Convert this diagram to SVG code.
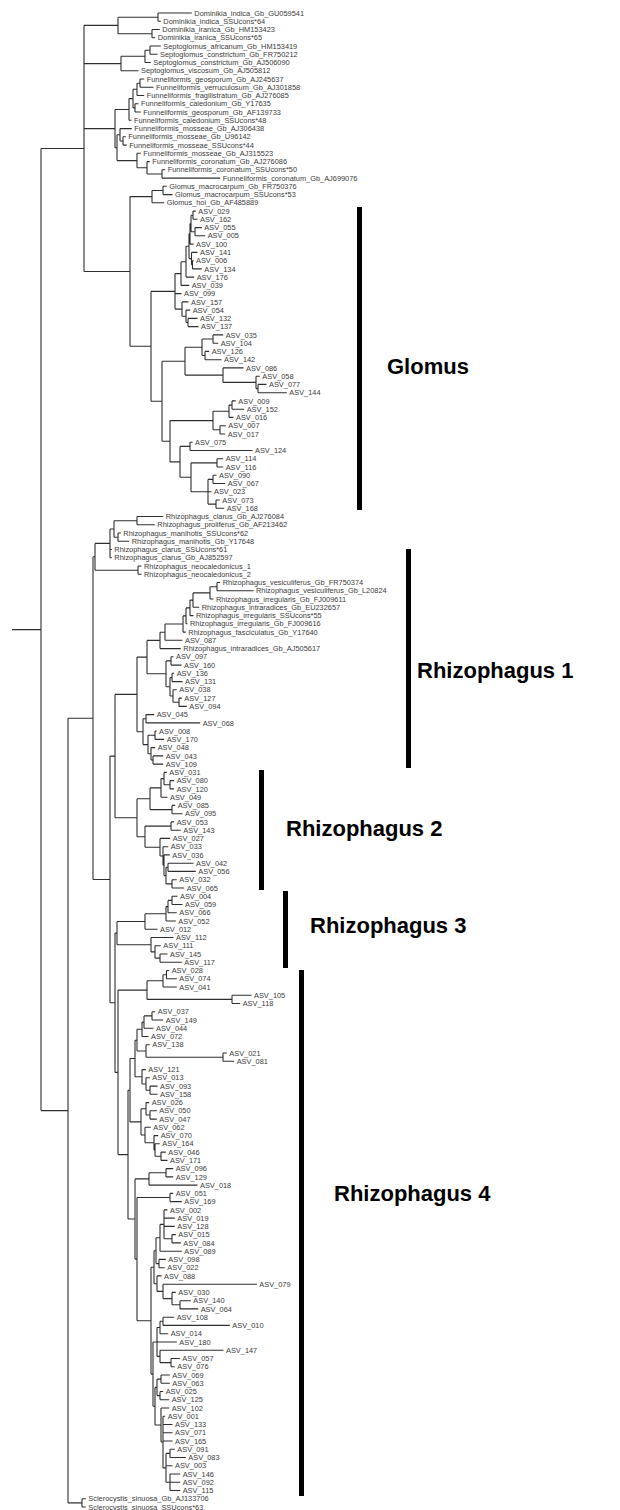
<svg xmlns="http://www.w3.org/2000/svg" width="620" height="1510" viewBox="0 0 620 1510">
<style>
.t{font-family:"Liberation Sans",Arial,sans-serif;font-size:7.4px;fill:#3a3a3a}
.lab{font-family:"Liberation Sans",Arial,sans-serif;font-size:22px;font-weight:bold;fill:#000}
.e{fill:none;stroke:#2e2e2e;stroke-width:1.1}
.bar{fill:#000}
</style>
<rect width="620" height="1510" fill="#fff"/>
<g id="connectors">
<path class="e" d="M12 629.6H41 M41 148.5V1110.6 M41 148.5H84 M41 1110.6H68
M84 25.4V271.5 M84 25.4H118 M84 63.6H121 M84 128.6H115 M84 271.5H130
M118 17.2V33.7 M118 17.2H158 M118 33.7H152
M158 13V21.3 M158 13H191.8 M158 21.3H160.8
M152 29.5V37.8 M152 29.5H159.8 M152 37.8H155.2
M121 56.3V70.8 M121 56.3H145 M121 70.8H138.5
M145 50.2V62.5 M145 50.2H150 M145 62.5H150.8
M150 46V54.3 M150 46H160.8 M150 54.3H157.5
M115 109.5V147.7 M115 109.5H129 M115 147.7H117
M129 98.6V120.3 M129 98.6H133 M129 120.3H131.5
M133 89.3V107.9 M133 89.3H137 M133 107.9H135
M137 83.2V95.5 M137 83.2H140 M137 95.5H144.2
M140 79V87.3 M140 79H144.2 M140 87.3H153.5
M135 103.8V112 M135 103.8H138.5 M135 112H140.8
M117 134.8V160.6 M117 134.8H120 M117 160.6H137
M120 128.6V141 M120 128.6H131.8 M120 141H123
M123 136.8V145.1 M123 136.8H125.8 M123 145.1H126.8
M137 153.3V167.8 M137 153.3H140.8 M137 167.8H147
M147 161.6V174 M147 161.6H149.8 M147 174H162
M162 169.8V178.1 M162 169.8H165.2 M162 178.1H220.2
M130 196.6V346.3 M130 196.6H152 M130 346.3H151
M152 190.5V202.8 M152 190.5H163 M152 202.8H164.2
M163 186.3V194.6 M163 186.3H166.8 M163 194.6H172.5
M151 291.4V401.2 M151 291.4H175 M151 401.2H162
M175 273.6V309.1 M175 273.6H181 M175 293.6H181.5 M175 309.1H182
M181 261.7V285.4 M181 261.7H186 M181 285.4H189.2
M186 246.2V277.1 M186 246.2H189 M186 277.1H194.2
M189 233.8V258.6 M189 233.8H190 M189 258.6H191.5
M190 223.5V244.1 M190 223.5H191 M190 244.1H193.5
M191 215.2V231.7 M191 215.2H193 M191 231.7H195
M193 211.1V219.3 M193 211.1H195.8 M193 219.3H197.5
M195 227.6V235.8 M195 227.6H201.8 M195 235.8H205.2
M191.5 252.4V264.8 M191.5 252.4H197.5 M191.5 264.8H192.5
M192.5 260.6V268.9 M192.5 260.6H193.5 M192.5 268.9H201.8
M182 301.9V316.3 M182 301.9H188.5 M182 316.3H186
M186 310.1V322.5 M186 310.1H190.2 M186 322.5H188
M188 318.4V326.6 M188 318.4H197.5 M188 326.6H198.5
M162 361.2V441.2 M162 361.2H185 M162 441.2H170
M185 347.3V375.1 M185 347.3H202 M185 375.1H223
M202 339V355.5 M202 339H213 M202 355.5H205
M213 334.9V343.2 M213 334.9H223.2 M213 343.2H218.2
M205 351.4V359.7 M205 351.4H209.2 M205 359.7H221.5
M223 367.9V382.4 M223 367.9H243.5 M223 382.4H256
M256 376.2V388.6 M256 376.2H259.8 M256 388.6H258
M258 384.4V392.7 M258 384.4H266.5 M258 392.7H286.8
M170 420.6V461.9 M170 420.6H213 M170 461.9H180
M213 411.3V429.8 M213 411.3H229 M213 429.8H220
M229 405.1V417.4 M229 405.1H232 M229 417.4H233.5
M232 400.9V409.2 M232 400.9H235.8 M232 409.2H244.2
M220 425.7V434 M220 425.7H225.8 M220 434H225.2
M180 446.4V477.3 M180 446.4H190 M180 477.3H191
M190 442.2V450.5 M190 442.2H192.5 M190 450.5H252.5
M191 462.9V491.8 M191 462.9H217 M191 491.8H208
M217 458.7V467 M217 458.7H223.2 M217 467H223.2
M208 479.4V504.1 M208 479.4H213 M208 491.7H211.5 M208 504.1H216
M213 475.2V483.5 M213 475.2H216.5 M213 483.5H225.2
M216 500V508.2 M216 500H219.8 M216 508.2H224.2
M68 718.2V1502.9 M68 718.2H93 M68 1502.9H82
M82 1498.8V1507 M82 1498.8H85.8 M82 1507H85.8
M93 556.8V879.5 M93 556.8H95 M93 879.5H110
M95 543.4V570.2 M95 543.4H110 M95 570.2H138
M110 529V557.8 M110 529H114 M110 549.5H111.8 M110 557.8H111.8
M114 520.7V537.2 M114 520.7H137 M114 537.2H118
M137 516.5V524.8 M137 516.5H163.2 M137 524.8H154.8
M118 533V541.3 M118 533H120.8 M118 541.3H129.2
M138 566V574.3 M138 566H141.5 M138 574.3H141.5
M110 756.1V1002.8 M110 756.1H115 M110 1002.8H115
M115 694.4V817.8 M115 694.4H137 M115 817.8H137
M137 657.1V731.7 M137 657.1H147 M137 731.7H143
M147 640.4V673.8 M147 640.4H160 M147 673.8H166
M217 582.5V590.8 M217 582.5H220.2 M217 590.8H253.5
M210 586.7V599 M210 586.7H217 M210 599H213.5
M193 592.9V607.3 M193 592.9H210 M193 607.3H199.2
M190 600.1V615.6 M190 600.1H193 M190 615.6H193.5
M186 607.9V623.8 M186 607.9H190 M186 623.8H187.5
M183 615.9V632.1 M183 615.9H186 M183 632.1H185.8
M165 624V640.3 M165 624H183 M165 640.3H182.5
M160 632.2V648.6 M160 632.2H165 M160 648.6H180.8
M166 660.9V686.7 M166 660.9H171 M166 686.7H170
M171 656.8V665.1 M171 656.8H173.5 M171 665.1H181.5
M170 677.5V696 M170 677.5H172 M170 696H173
M172 673.3V681.6 M172 673.3H174.2 M172 681.6H182.5
M173 689.8V702.2 M173 689.8H176.8 M173 702.2H179
M179 698.1V706.4 M179 698.1H181.8 M179 706.4H186.8
M143 718.8V744.6 M143 718.8H146 M143 744.6H148
M146 714.6V722.9 M146 714.6H154.2 M146 722.9H200.2
M148 735.3V753.8 M148 735.3H155 M148 753.8H151
M155 731.1V739.4 M155 731.1H156.5 M155 739.4H164.2
M151 747.6V760 M151 747.6H155.2 M151 760H153
M153 755.9V764.1 M153 755.9H163.2 M153 764.1H163.2
M137 798.8V836.7 M137 798.8H150 M137 836.7H145
M150 787.9V809.6 M150 787.9H161 M150 809.6H172
M161 778.6V797.2 M161 778.6H164 M161 797.2H167.5
M164 772.4V784.8 M164 772.4H166.8 M164 784.8H170
M170 780.6V788.9 M170 780.6H174.2 M170 788.9H174.2
M172 805.4V813.7 M172 805.4H175.2 M172 813.7H182.5
M145 826.1V847.2 M145 826.1H171 M145 847.2H160
M171 821.9V830.2 M171 821.9H174.2 M171 830.2H180.8
M160 838.4V856 M160 838.4H170.2 M160 856H163
M163 846.7V865.3 M163 846.7H168.2 M163 865.3H164
M164 854.9V875.6 M164 854.9H169.8 M164 875.6H166
M166 867.3V883.9 M166 867.3H168 M166 883.9H172
M168 863.2V871.4 M168 863.2H193.5 M168 871.4H195.8
M172 879.7V888 M172 879.7H176.8 M172 888H184.2
M115 933.1V1072.4 M115 933.1H117 M115 1072.4H118
M117 921.5V944.7 M117 921.5H145 M117 944.7H151
M145 913.8V929.2 M145 913.8H166 M145 929.2H157.5
M166 906.6V921 M166 906.6H168 M166 921H175.8
M168 900.4V912.7 M168 900.4H172 M168 912.7H176.8
M172 896.2V904.5 M172 896.2H177.5 M172 904.5H182.5
M151 937.5V951.9 M151 937.5H173.5 M151 951.9H155
M155 945.7V958.1 M155 945.7H160.8 M155 958.1H160
M160 954V962.2 M160 954H167.5 M160 962.2H181.8
M118 990.1V1154.6 M118 990.1H147 M118 1154.6H128
M147 980.8V999.4 M147 980.8H163 M147 999.4H232
M163 974.7V987 M163 974.7H166.5 M163 987H176.8
M166.5 970.5V978.8 M166.5 970.5H169.2 M166.5 978.8H176.8
M232 995.3V1003.5 M232 995.3H251.5 M232 1003.5H240.2
M128 1090.2V1219 M128 1090.2H130 M128 1219H135
M130 1058.5V1121.9 M130 1058.5H135 M130 1121.9H141
M135 1040.2V1076.8 M135 1040.2H137 M135 1076.8H142
M137 1029.3V1051 M137 1029.3H142 M137 1051H146
M142 1022.1V1036.5 M142 1022.1H144 M142 1036.5H148.5
M144 1015.9V1028.3 M144 1015.9H152 M144 1028.3H153.5
M152 1011.8V1020 M152 1011.8H155.2 M152 1020H163.2
M146 1044.8V1057.2 M146 1044.8H149.8 M146 1057.2H223
M223 1053V1061.3 M223 1053H226.8 M223 1061.3H234.2
M142 1069.6V1084 M142 1069.6H145.8 M142 1084H146
M146 1077.8V1090.2 M146 1077.8H149.8 M146 1090.2H150
M150 1086.1V1094.3 M150 1086.1H157.5 M150 1094.3H157.5
M141 1108.8V1135 M141 1108.8H146 M141 1135H145
M146 1102.6V1115 M146 1102.6H149.2 M146 1115H150
M150 1110.8V1119.1 M150 1110.8H156.8 M150 1119.1H156.8
M145 1127.3V1142.8 M145 1127.3H150.8 M145 1142.8H154
M154 1135.6V1150 M154 1135.6H158.2 M154 1150H155
M155 1143.8V1156.2 M155 1143.8H159.8 M155 1156.2H161
M161 1152.1V1160.4 M161 1152.1H165.8 M161 1160.4H167.5
M135 1178.9V1259.1 M135 1178.9H149 M135 1259.1H137
M149 1172.8V1185.1 M149 1172.8H166 M149 1185.1H197.5
M166 1168.6V1176.9 M166 1168.6H173.2 M166 1176.9H173.2
M137 1197.5V1320.7 M137 1197.5H170 M137 1320.7H151
M170 1193.4V1201.6 M170 1193.4H173.2 M170 1201.6H181.8
M151 1267.2V1374.1 M151 1267.2H154 M151 1374.1H153
M154 1250.7V1283.7 M154 1250.7H156 M154 1283.7H157
M156 1237.8V1263.6 M156 1237.8H160 M156 1263.6H159
M160 1224.4V1251.2 M160 1224.4H164 M160 1251.2H181.8
M164 1209.9V1238.8 M164 1209.9H167.5 M164 1218.1H174.8 M164 1226.4H174.8 M164 1238.8H172
M172 1234.6V1242.9 M172 1234.6H175.8 M172 1242.9H180.8
M159 1259.4V1267.7 M159 1259.4H165.8 M159 1267.7H164.8
M157 1275.9V1291.4 M157 1275.9H161.5 M157 1291.4H163
M163 1284.2V1298.6 M163 1284.2H256.8 M163 1298.6H172
M172 1292.4V1304.8 M172 1292.4H175.8 M172 1304.8H180
M180 1300.7V1308.9 M180 1300.7H190.8 M180 1308.9H198.2
M153 1342V1406.2 M153 1342H157 M153 1406.2H155
M157 1327.5V1356.4 M157 1327.5H160 M157 1342H176.8 M157 1356.4H160
M160 1321.3V1333.7 M160 1321.3H163 M160 1333.7H168.2
M163 1317.2V1325.4 M163 1317.2H174.2 M163 1325.4H229.8
M160 1350.2V1362.6 M160 1350.2H223.5 M160 1362.6H171
M171 1358.5V1366.7 M171 1358.5H179.8 M171 1366.7H174.8
M155 1387.4V1425 M155 1387.4H157 M155 1425H161
M157 1379.1V1395.6 M157 1379.1H161 M157 1395.6H160
M161 1375V1383.2 M161 1375H169.8 M161 1383.2H169.8
M160 1391.5V1399.7 M160 1391.5H163.2 M160 1399.7H169.2
M161 1408V1442 M161 1408H169.2 M161 1442H163
M163 1416.2V1467.9 M163 1416.2H165.2 M163 1424.5H172.5 M163 1432.8H172.5 M163 1441H172.5 M163 1467.9H166
M166 1453.4V1482.3 M166 1453.4H170 M166 1465.8H172.5 M166 1482.3H170
M170 1449.3V1457.5 M170 1449.3H174.8 M170 1457.5H185.8
M170 1474V1490.5 M170 1474H180.2 M170 1482.3H180.2 M170 1490.5H180.2"/>
</g>
<g id="leaves">
<text id="l001" class="t" x="194.3" y="15.6">Dominikia_indica_Gb_GU059541</text>
<text id="l002" class="t" x="163.3" y="23.9">Dominikia_indica_SSUcons*64</text>
<text id="l003" class="t" x="162.3" y="32.1">Dominikia_iranica_Gb_HM153423</text>
<text id="l004" class="t" x="157.7" y="40.4">Dominikia_iranica_SSUcons*65</text>
<text id="l005" class="t" x="163.3" y="48.6">Septoglomus_africanum_Gb_HM153419</text>
<text id="l006" class="t" x="160" y="56.9">Septoglomus_constrictum_Gb_FR750212</text>
<text id="l007" class="t" x="153.3" y="65.1">Septoglomus_constrictum_Gb_AJ506090</text>
<text id="l008" class="t" x="141" y="73.4">Septoglomus_viscosum_Gb_AJ505812</text>
<text id="l009" class="t" x="146.7" y="81.6">Funneliformis_geosporum_Gb_AJ245637</text>
<text id="l010" class="t" x="156" y="89.9">Funneliformis_verruculosum_Gb_AJ301858</text>
<text id="l011" class="t" x="146.7" y="98.1">Funneliformis_fragilistratum_Gb_AJ276085</text>
<text id="l012" class="t" x="141" y="106.4">Funneliformis_caledonium_Gb_Y17635</text>
<text id="l013" class="t" x="143.3" y="114.6">Funneliformis_geosporum_Gb_AF139733</text>
<text id="l014" class="t" x="134" y="122.9">Funneliformis_caledonium_SSUcons*48</text>
<text id="l015" class="t" x="134.3" y="131.2">Funneliformis_mosseae_Gb_AJ306438</text>
<text id="l016" class="t" x="128.3" y="139.4">Funneliformis_mosseae_Gb_U96142</text>
<text id="l017" class="t" x="129.3" y="147.7">Funneliformis_mosseae_SSUcons*44</text>
<text id="l018" class="t" x="143.3" y="155.9">Funneliformis_mosseae_Gb_AJ315523</text>
<text id="l019" class="t" x="152.3" y="164.2">Funneliformis_coronatum_Gb_AJ276086</text>
<text id="l020" class="t" x="167.7" y="172.4">Funneliformis_coronatum_SSUcons*50</text>
<text id="l021" class="t" x="222.7" y="180.7">Funneliformis_coronatum_Gb_AJ699076</text>
<text id="l022" class="t" x="169.3" y="188.9">Glomus_macrocarpum_Gb_FR750376</text>
<text id="l023" class="t" x="175" y="197.2">Glomus_macrocarpum_SSUcons*53</text>
<text id="l024" class="t" x="166.7" y="205.4">Glomus_hoi_Gb_AF485889</text>
<text id="l025" class="t" x="198.3" y="213.7">ASV_029</text>
<text id="l026" class="t" x="200" y="221.9">ASV_162</text>
<text id="l027" class="t" x="204.3" y="230.2">ASV_055</text>
<text id="l028" class="t" x="207.7" y="238.4">ASV_005</text>
<text id="l029" class="t" x="196" y="246.7">ASV_100</text>
<text id="l030" class="t" x="200" y="255">ASV_141</text>
<text id="l031" class="t" x="196" y="263.2">ASV_006</text>
<text id="l032" class="t" x="204.3" y="271.5">ASV_134</text>
<text id="l033" class="t" x="196.7" y="279.7">ASV_176</text>
<text id="l034" class="t" x="191.7" y="288">ASV_039</text>
<text id="l035" class="t" x="184" y="296.2">ASV_099</text>
<text id="l036" class="t" x="191" y="304.5">ASV_157</text>
<text id="l037" class="t" x="192.7" y="312.7">ASV_054</text>
<text id="l038" class="t" x="200" y="321">ASV_132</text>
<text id="l039" class="t" x="201" y="329.2">ASV_137</text>
<text id="l040" class="t" x="225.7" y="337.5">ASV_035</text>
<text id="l041" class="t" x="220.7" y="345.8">ASV_104</text>
<text id="l042" class="t" x="211.7" y="354">ASV_126</text>
<text id="l043" class="t" x="224" y="362.3">ASV_142</text>
<text id="l044" class="t" x="246" y="370.5">ASV_086</text>
<text id="l045" class="t" x="262.3" y="378.8">ASV_058</text>
<text id="l046" class="t" x="269" y="387">ASV_077</text>
<text id="l047" class="t" x="289.3" y="395.3">ASV_144</text>
<text id="l048" class="t" x="238.3" y="403.5">ASV_009</text>
<text id="l049" class="t" x="246.7" y="411.8">ASV_152</text>
<text id="l050" class="t" x="236" y="420">ASV_016</text>
<text id="l051" class="t" x="228.3" y="428.3">ASV_007</text>
<text id="l052" class="t" x="227.7" y="436.6">ASV_017</text>
<text id="l053" class="t" x="195" y="444.8">ASV_075</text>
<text id="l054" class="t" x="255" y="453.1">ASV_124</text>
<text id="l055" class="t" x="225.7" y="461.3">ASV_114</text>
<text id="l056" class="t" x="225.7" y="469.6">ASV_116</text>
<text id="l057" class="t" x="219" y="477.8">ASV_090</text>
<text id="l058" class="t" x="227.7" y="486.1">ASV_067</text>
<text id="l059" class="t" x="214" y="494.3">ASV_023</text>
<text id="l060" class="t" x="222.3" y="502.6">ASV_073</text>
<text id="l061" class="t" x="226.7" y="510.8">ASV_168</text>
<text id="l062" class="t" x="165.7" y="519.1">Rhizophagus_clarus_Gb_AJ276084</text>
<text id="l063" class="t" x="157.3" y="527.4">Rhizophagus_proliferus_Gb_AF213462</text>
<text id="l064" class="t" x="123.3" y="535.6">Rhizophagus_manihotis_SSUcons*62</text>
<text id="l065" class="t" x="131.7" y="543.9">Rhizophagus_manihotis_Gb_Y17648</text>
<text id="l066" class="t" x="114.3" y="552.1">Rhizophagus_clarus_SSUcons*61</text>
<text id="l067" class="t" x="114.3" y="560.4">Rhizophagus_clarus_Gb_AJ852597</text>
<text id="l068" class="t" x="144" y="568.6">Rhizophagus_neocaledonicus_1</text>
<text id="l069" class="t" x="144" y="576.9">Rhizophagus_neocaledonicus_2</text>
<text id="l070" class="t" x="222.7" y="585.1">Rhizophagus_vesiculiferus_Gb_FR750374</text>
<text id="l071" class="t" x="256" y="593.4">Rhizophagus_vesiculiferus_Gb_L20824</text>
<text id="l072" class="t" x="216" y="601.6">Rhizophagus_irregularis_Gb_FJ009611</text>
<text id="l073" class="t" x="201.7" y="609.9">Rhizophagus_intraradices_Gb_EU232657</text>
<text id="l074" class="t" x="196" y="618.2">Rhizophagus_irregularis_SSUcons*55</text>
<text id="l075" class="t" x="190" y="626.4">Rhizophagus_irregularis_Gb_FJ009616</text>
<text id="l076" class="t" x="188.3" y="634.7">Rhizophagus_fasciculatus_Gb_Y17640</text>
<text id="l077" class="t" x="185" y="642.9">ASV_087</text>
<text id="l078" class="t" x="183.3" y="651.2">Rhizophagus_intraradices_Gb_AJ505617</text>
<text id="l079" class="t" x="176" y="659.4">ASV_097</text>
<text id="l080" class="t" x="184" y="667.7">ASV_160</text>
<text id="l081" class="t" x="176.7" y="675.9">ASV_136</text>
<text id="l082" class="t" x="185" y="684.2">ASV_131</text>
<text id="l083" class="t" x="179.3" y="692.4">ASV_038</text>
<text id="l084" class="t" x="184.3" y="700.7">ASV_127</text>
<text id="l085" class="t" x="189.3" y="709">ASV_094</text>
<text id="l086" class="t" x="156.7" y="717.2">ASV_045</text>
<text id="l087" class="t" x="202.7" y="725.5">ASV_068</text>
<text id="l088" class="t" x="159" y="733.7">ASV_008</text>
<text id="l089" class="t" x="166.7" y="742">ASV_170</text>
<text id="l090" class="t" x="157.7" y="750.2">ASV_048</text>
<text id="l091" class="t" x="165.7" y="758.5">ASV_043</text>
<text id="l092" class="t" x="165.7" y="766.7">ASV_109</text>
<text id="l093" class="t" x="169.3" y="775">ASV_031</text>
<text id="l094" class="t" x="176.7" y="783.2">ASV_080</text>
<text id="l095" class="t" x="176.7" y="791.5">ASV_120</text>
<text id="l096" class="t" x="170" y="799.8">ASV_049</text>
<text id="l097" class="t" x="177.7" y="808">ASV_085</text>
<text id="l098" class="t" x="185" y="816.3">ASV_095</text>
<text id="l099" class="t" x="176.7" y="824.5">ASV_053</text>
<text id="l100" class="t" x="183.3" y="832.8">ASV_143</text>
<text id="l101" class="t" x="172.7" y="841">ASV_027</text>
<text id="l102" class="t" x="170.7" y="849.3">ASV_033</text>
<text id="l103" class="t" x="172.3" y="857.5">ASV_036</text>
<text id="l104" class="t" x="196" y="865.8">ASV_042</text>
<text id="l105" class="t" x="198.3" y="874">ASV_056</text>
<text id="l106" class="t" x="179.3" y="882.3">ASV_032</text>
<text id="l107" class="t" x="186.7" y="890.6">ASV_065</text>
<text id="l108" class="t" x="180" y="898.8">ASV_004</text>
<text id="l109" class="t" x="185" y="907.1">ASV_059</text>
<text id="l110" class="t" x="179.3" y="915.3">ASV_066</text>
<text id="l111" class="t" x="178.3" y="923.6">ASV_052</text>
<text id="l112" class="t" x="160" y="931.8">ASV_012</text>
<text id="l113" class="t" x="176" y="940.1">ASV_112</text>
<text id="l114" class="t" x="163.3" y="948.3">ASV_111</text>
<text id="l115" class="t" x="170" y="956.6">ASV_145</text>
<text id="l116" class="t" x="184.3" y="964.8">ASV_117</text>
<text id="l117" class="t" x="171.7" y="973.1">ASV_028</text>
<text id="l118" class="t" x="179.3" y="981.4">ASV_074</text>
<text id="l119" class="t" x="179.3" y="989.6">ASV_041</text>
<text id="l120" class="t" x="254" y="997.9">ASV_105</text>
<text id="l121" class="t" x="242.7" y="1006.1">ASV_118</text>
<text id="l122" class="t" x="157.7" y="1014.4">ASV_037</text>
<text id="l123" class="t" x="165.7" y="1022.6">ASV_149</text>
<text id="l124" class="t" x="156" y="1030.9">ASV_044</text>
<text id="l125" class="t" x="151" y="1039.1">ASV_072</text>
<text id="l126" class="t" x="152.3" y="1047.4">ASV_138</text>
<text id="l127" class="t" x="229.3" y="1055.6">ASV_021</text>
<text id="l128" class="t" x="236.7" y="1063.9">ASV_081</text>
<text id="l129" class="t" x="148.3" y="1072.2">ASV_121</text>
<text id="l130" class="t" x="152.3" y="1080.4">ASV_013</text>
<text id="l131" class="t" x="160" y="1088.7">ASV_093</text>
<text id="l132" class="t" x="160" y="1096.9">ASV_158</text>
<text id="l133" class="t" x="151.7" y="1105.2">ASV_026</text>
<text id="l134" class="t" x="159.3" y="1113.4">ASV_050</text>
<text id="l135" class="t" x="159.3" y="1121.7">ASV_047</text>
<text id="l136" class="t" x="153.3" y="1129.9">ASV_062</text>
<text id="l137" class="t" x="160.7" y="1138.2">ASV_070</text>
<text id="l138" class="t" x="162.3" y="1146.4">ASV_164</text>
<text id="l139" class="t" x="168.3" y="1154.7">ASV_046</text>
<text id="l140" class="t" x="170" y="1163">ASV_171</text>
<text id="l141" class="t" x="175.7" y="1171.2">ASV_096</text>
<text id="l142" class="t" x="175.7" y="1179.5">ASV_129</text>
<text id="l143" class="t" x="200" y="1187.7">ASV_018</text>
<text id="l144" class="t" x="175.7" y="1196">ASV_051</text>
<text id="l145" class="t" x="184.3" y="1204.2">ASV_169</text>
<text id="l146" class="t" x="170" y="1212.5">ASV_002</text>
<text id="l147" class="t" x="177.3" y="1220.7">ASV_019</text>
<text id="l148" class="t" x="177.3" y="1229">ASV_128</text>
<text id="l149" class="t" x="178.3" y="1237.2">ASV_015</text>
<text id="l150" class="t" x="183.3" y="1245.5">ASV_084</text>
<text id="l151" class="t" x="184.3" y="1253.8">ASV_089</text>
<text id="l152" class="t" x="168.3" y="1262">ASV_098</text>
<text id="l153" class="t" x="167.3" y="1270.3">ASV_022</text>
<text id="l154" class="t" x="164" y="1278.5">ASV_088</text>
<text id="l155" class="t" x="259.3" y="1286.8">ASV_079</text>
<text id="l156" class="t" x="178.3" y="1295">ASV_030</text>
<text id="l157" class="t" x="193.3" y="1303.3">ASV_140</text>
<text id="l158" class="t" x="200.7" y="1311.5">ASV_064</text>
<text id="l159" class="t" x="176.7" y="1319.8">ASV_108</text>
<text id="l160" class="t" x="232.3" y="1328">ASV_010</text>
<text id="l161" class="t" x="170.7" y="1336.3">ASV_014</text>
<text id="l162" class="t" x="179.3" y="1344.6">ASV_180</text>
<text id="l163" class="t" x="226" y="1352.8">ASV_147</text>
<text id="l164" class="t" x="182.3" y="1361.1">ASV_057</text>
<text id="l165" class="t" x="177.3" y="1369.3">ASV_076</text>
<text id="l166" class="t" x="172.3" y="1377.6">ASV_069</text>
<text id="l167" class="t" x="172.3" y="1385.8">ASV_063</text>
<text id="l168" class="t" x="165.7" y="1394.1">ASV_025</text>
<text id="l169" class="t" x="171.7" y="1402.3">ASV_125</text>
<text id="l170" class="t" x="171.7" y="1410.6">ASV_102</text>
<text id="l171" class="t" x="167.7" y="1418.8">ASV_001</text>
<text id="l172" class="t" x="175" y="1427.1">ASV_133</text>
<text id="l173" class="t" x="175" y="1435.4">ASV_071</text>
<text id="l174" class="t" x="175" y="1443.6">ASV_165</text>
<text id="l175" class="t" x="177.3" y="1451.9">ASV_091</text>
<text id="l176" class="t" x="188.3" y="1460.1">ASV_083</text>
<text id="l177" class="t" x="175" y="1468.4">ASV_003</text>
<text id="l178" class="t" x="182.7" y="1476.6">ASV_146</text>
<text id="l179" class="t" x="182.7" y="1484.9">ASV_092</text>
<text id="l180" class="t" x="182.7" y="1493.1">ASV_115</text>
<text id="l181" class="t" x="88.3" y="1501.4">Sclerocystis_sinuosa_Gb_AJ133706</text>
<text id="l182" class="t" x="88.3" y="1509.6">Sclerocystis_sinuosa_SSUcons*63</text>
</g>
<g id="clade-glomus"><rect class="bar" x="357" y="207" width="5" height="303"/><text class="lab" x="387" y="374">Glomus</text></g>
<g id="clade-rhizophagus1"><rect class="bar" x="406" y="549" width="5" height="219"/><text class="lab" x="417" y="678">Rhizophagus 1</text></g>
<g id="clade-rhizophagus2"><rect class="bar" x="259" y="770" width="5" height="120"/><text class="lab" x="286" y="836">Rhizophagus 2</text></g>
<g id="clade-rhizophagus3"><rect class="bar" x="283" y="891" width="5" height="77"/><text class="lab" x="310" y="933">Rhizophagus 3</text></g>
<g id="clade-rhizophagus4"><rect class="bar" x="299" y="970" width="5" height="526"/><text class="lab" x="334" y="1201">Rhizophagus 4</text></g>
</svg>
